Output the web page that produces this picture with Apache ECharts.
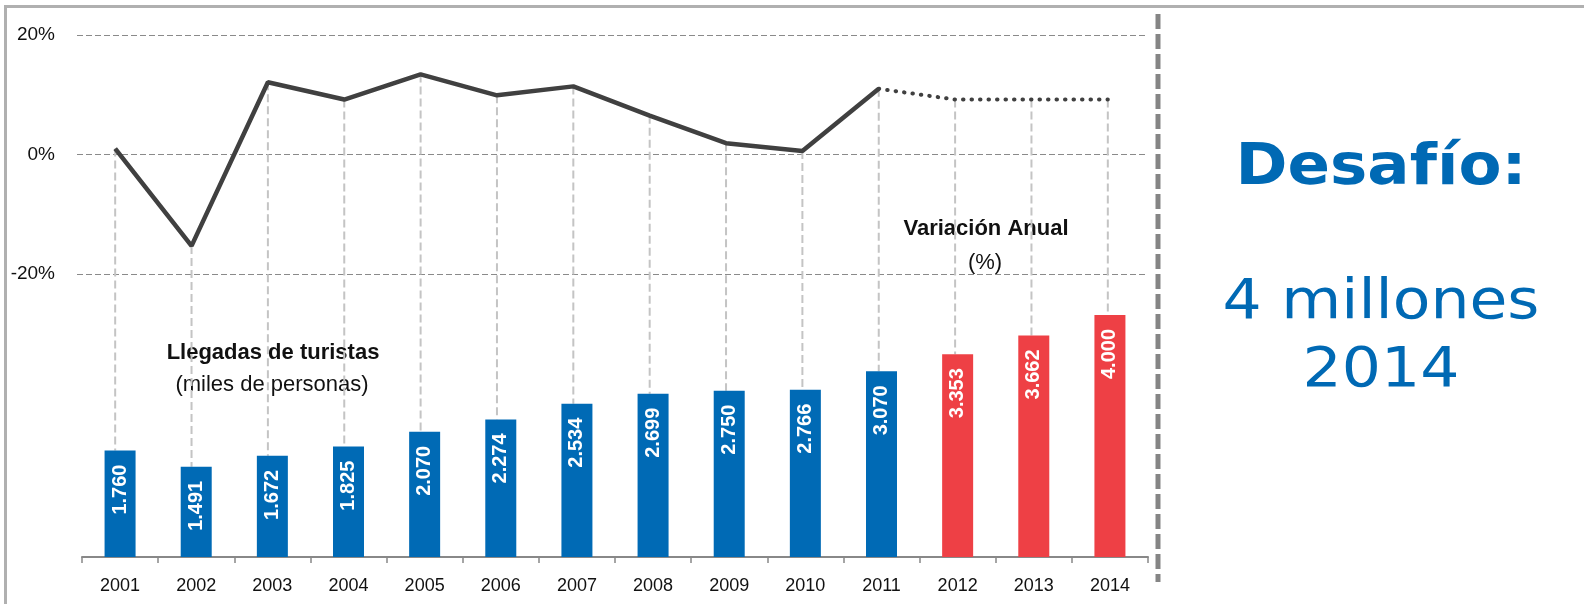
<!DOCTYPE html>
<html>
<head>
    <meta charset="utf-8">
    <title>Llegadas de turistas</title>
    <script src="https://cdn.jsdelivr.net/npm/echarts@6.0.0/dist/echarts.min.js"></script>
    <style>
        html, body { margin: 0; padding: 0; background: #fff; }
    </style>
</head>
<body>
    <div id="main" style="width: 1584px;height:604px;"></div>

<script>
// datos
const years = ['2001', '2002', '2003', '2004', '2005', '2006', '2007', '2008', '2009', '2010', '2011', '2012', '2013', '2014'];
const arrivals = [1760, 1491, 1672, 1825, 2070, 2274, 2534, 2699, 2750, 2766, 3070, 3353, 3662, 4000];
const variation = [1.0, -15.3, 12.1, 9.2, 13.4, 9.9, 11.4, 6.5, 1.9, 0.6, 11.0, 9.2, 9.2, 9.2];
const firstProjected = '2012';
const pctTicks = [-20, 0, 20];

const BLUE = '#006AB5';
const RED = '#EE4045';
const FONT = '"Liberation Sans", Arial, sans-serif';

let myChart;
let barTopY = [];

function fmtMiles(v) {
    return String(v).replace(/\B(?=(\d{3})+(?!\d))/g, '.');
}

function initChart() {
    myChart = echarts.init(document.getElementById('main'));

    const projIdx = years.indexOf(firstProjected);
    const solid = variation.map((v, i) => i <= projIdx - 1 ? v : '-');
    const dotted = variation.map((v, i) => i >= projIdx - 1 ? v : '-');

    const option = {
        animation: false,
        grid: [
            { left: 77, right: 438, top: 35, height: 239 },
            { left: 82, right: 436, top: 315, bottom: 47 }
        ],
        xAxis: [
            { type: 'category', gridIndex: 0, data: years, show: false },
            {
                type: 'category', gridIndex: 1, data: years,
                axisLine: { show: true, lineStyle: { color: '#888', width: 2 } },
                axisTick: { show: true, length: 6, lineStyle: { color: '#888', width: 1.5 } },
                axisLabel: { color: '#111', fontSize: 18, fontFamily: FONT, margin: 20 }
            }
        ],
        yAxis: [
            {
                type: 'value', gridIndex: 0,
                min: pctTicks[0], max: pctTicks[pctTicks.length - 1], interval: 20,
                axisLine: { show: false },
                axisTick: { show: false },
                axisLabel: { formatter: '{value}%', color: '#111', fontSize: 19, fontFamily: FONT, margin: 22 },
                splitLine: { lineStyle: { color: '#8a8a8a', width: 1, type: [6, 3] } }
            },
            { type: 'value', gridIndex: 1, min: 0, max: 4000, show: false }
        ],
        series: [
            {
                id: 'llegadas',
                type: 'bar',
                xAxisIndex: 1, yAxisIndex: 1,
                barWidth: 31,
                data: arrivals.map((v, i) => ({
                    value: v,
                    itemStyle: { color: i >= projIdx ? RED : BLUE }
                })),
                label: {
                    show: true,
                    position: 'insideTop',
                    rotate: 90,
                    align: 'right',
                    verticalAlign: 'middle',
                    distance: 14,
                    color: '#fff',
                    fontWeight: 'bold',
                    fontSize: 20,
                    fontFamily: FONT,
                    formatter: (p) => fmtMiles(p.value)
                }
            },
            {
                id: 'variacion',
                type: 'line',
                xAxisIndex: 0, yAxisIndex: 0,
                data: solid,
                symbol: 'none',
                z: 4,
                lineStyle: { color: '#404040', width: 4.5 }
            },
            {
                id: 'proyeccion',
                type: 'line',
                xAxisIndex: 0, yAxisIndex: 0,
                data: dotted,
                symbol: 'none',
                z: 4,
                lineStyle: { color: '#404040', width: 4, type: [0.5, 8], cap: 'round' }
            }
        ],
        graphic: [
            // marco
            {
                type: 'rect', silent: true,
                shape: { x: 5.5, y: 6.5, width: 1600, height: 640 },
                style: { fill: 'none', stroke: '#b0b0b0', lineWidth: 3 }
            },
            // separador
            {
                type: 'line', silent: true,
                shape: { x1: 1158, y1: 14, x2: 1158, y2: 582 },
                style: { stroke: '#858585', lineWidth: 5, lineDash: [15, 5] }
            },
            {
                type: 'text', x: 273, y: 353,
                style: { text: 'Llegadas de turistas', fill: '#111', font: 'bold 22px ' + FONT, align: 'center', verticalAlign: 'middle', textAlign: 'center', textVerticalAlign: 'middle' }
            },
            {
                type: 'text', x: 272, y: 385,
                style: { text: '(miles de personas)', fill: '#111', font: '22px ' + FONT, align: 'center', verticalAlign: 'middle', textAlign: 'center', textVerticalAlign: 'middle' }
            },
            {
                type: 'text', x: 986, y: 229,
                style: { text: 'Variación Anual', fill: '#111', font: 'bold 22px ' + FONT, align: 'center', verticalAlign: 'middle', textAlign: 'center', textVerticalAlign: 'middle' }
            },
            {
                type: 'text', x: 985, y: 263,
                style: { text: '(%)', fill: '#111', font: '22px ' + FONT, align: 'center', verticalAlign: 'middle', textAlign: 'center', textVerticalAlign: 'middle' }
            },
            {
                type: 'text', x: 1381, y: 169, scaleX: 1.1,
                style: { text: 'Desafío:', fill: '#0069B4', font: 'bold 57px "DejaVu Sans", Verdana, sans-serif', align: 'center', verticalAlign: 'middle', textAlign: 'center', textVerticalAlign: 'middle' }
            },
            {
                type: 'text', x: 1381, y: 304, scaleX: 1.12,
                style: { text: '4 millones', fill: '#0069B4', font: '55px "DejaVu Sans", Verdana, sans-serif', align: 'center', verticalAlign: 'middle', textAlign: 'center', textVerticalAlign: 'middle' }
            },
            {
                type: 'text', x: 1381, y: 372, scaleX: 1.12,
                style: { text: '2014', fill: '#0069B4', font: '55px "DejaVu Sans", Verdana, sans-serif', align: 'center', verticalAlign: 'middle', textAlign: 'center', textVerticalAlign: 'middle' }
            }
        ]
    };
    myChart.setOption(option);

    // líneas verticales: del punto de variación hasta la barra
    barTopY = years.map((y, i) => myChart.convertToPixel({ gridIndex: 1 }, [y, arrivals[i]])[1]);

    myChart.setOption({
        series: [{
            id: 'guias',
            type: 'custom',
            xAxisIndex: 0, yAxisIndex: 0,
            z: 1,
            clip: false,
            data: variation.map((v, i) => [i, v]),
            renderItem: (params, api) => {
                const i = api.value(0);
                const top = api.coord([i, api.value(1)]);
                return {
                    type: 'line',
                    shape: { x1: top[0], y1: top[1], x2: top[0], y2: barTopY[i] },
                    style: { stroke: '#c4c4c4', lineWidth: 2, lineDash: [8, 4] }
                };
            }
        }]
    });
}

window.onload = () => {
    initChart();
};
</script>
</body>
</html>
